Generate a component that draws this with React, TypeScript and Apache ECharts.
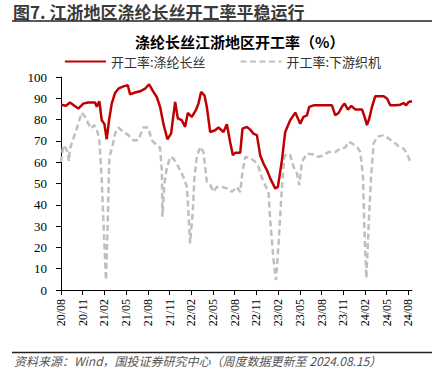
import React, { useEffect, useRef } from 'react';
import * as echarts from 'echarts';

const tickLabels = ['20/08', '20/11', '21/02', '21/05', '21/08', '21/11', '22/02', '22/05', '22/08', '22/11', '23/02', '23/05', '23/08', '23/11', '24/02', '24/05', '24/08'];

// x = months since 2020-08 (weekly observations)
const filamentMonths = [0, 0.7, 1.24, 2.39, 3.08, 3.73, 4.7, 4.94, 5.3, 5.63, 5.99, 6.32, 6.64, 7.01, 7.47, 7.93, 8.62, 9.23, 9.54, 10.24, 10.93, 11.62, 12.17, 12.77, 13.24, 13.69, 14.15, 14.7, 15.21, 15.77, 16.14, 16.69, 17.15, 17.52, 18.08, 18.63, 18.99, 19.36, 19.82, 20.15, 20.61, 21.3, 21.76, 22.45, 22.92, 23.37, 23.75, 24.07, 24.76, 25.08, 25.68, 26.14, 26.6, 27.07, 27.52, 27.98, 28.45, 28.91, 29.6, 29.97, 30.53, 30.98, 31.67, 32.37, 33.06, 33.51, 33.98, 34.3, 34.9, 37.44, 37.9, 38.35, 38.82, 39.18, 39.65, 40.11, 40.66, 41.59, 41.95, 42.28, 42.6, 42.97, 43.43, 44.58, 45.05, 45.5, 46.2, 46.89, 47.34, 47.68, 48.04, 48.5];
const filamentRate = [87, 86.5, 88, 85.2, 87.5, 88, 88, 86, 88.6, 79.7, 78, 70.8, 79.7, 87.5, 92.5, 94.5, 95.6, 96.1, 91.9, 92.7, 93.3, 94.5, 96.6, 93, 90.6, 86, 78.1, 70.8, 73.4, 88.3, 80.6, 79.7, 76.6, 83.1, 81.3, 84.4, 87.5, 93, 91.4, 86, 74.2, 75, 76.3, 74.2, 77.8, 69.5, 63.3, 64.4, 64.4, 75.8, 76.6, 75.3, 73.4, 72.7, 63.3, 59.4, 56.3, 52.4, 47.7, 48.4, 61, 74.2, 79.7, 83.3, 78.1, 81.3, 82, 86, 86.7, 86.7, 82, 83.1, 86, 87.5, 84.7, 86.4, 84.8, 84.8, 81.3, 77.4, 80.5, 86, 91, 91, 89.9, 86.7, 86.7, 87, 87.8, 86.7, 88.3, 88.6];

const loomMonths = [0, 0.32, 0.55, 0.9, 1.1, 1.24, 1.7, 2.17, 2.86, 3.32, 3.78, 4.15, 4.61, 4.94, 5.3, 5.63, 5.99, 6.22, 6.46, 6.68, 7.1, 7.47, 7.93, 8.62, 9.31, 10, 10.69, 11.38, 12.07, 12.54, 13.24, 13.69, 13.93, 14.01, 14.29, 14.63, 15.1, 15.55, 16.22, 16.92, 17.39, 17.64, 17.84, 18.22, 18.44, 18.77, 19.23, 19.68, 20.15, 20.61, 21.07, 21.54, 22.23, 22.92, 23.61, 24.3, 24.76, 25.08, 25.45, 26.14, 26.83, 27.29, 27.73, 28.22, 28.67, 28.91, 29.37, 29.7, 30.06, 30.53, 30.84, 31.22, 31.67, 32.12, 32.6, 32.92, 33.29, 33.98, 34.9, 35.59, 36.28, 36.97, 37.9, 38.59, 39.28, 39.74, 40.21, 40.9, 41.36, 41.73, 41.91, 42.19, 42.5, 42.84, 43.2, 43.67, 44.58, 45.27, 45.96, 46.65, 47.34, 47.81, 48.37];
const loomRate = [60, 68, 67.2, 65, 60.5, 66.4, 71.1, 75.8, 83.3, 81.3, 78.1, 75.8, 77.4, 75.8, 70.3, 51.6, 21.9, 4.7, 32.8, 62.5, 67.2, 73.4, 76.3, 74.2, 72.7, 70.3, 70.3, 76.3, 76.3, 70.3, 68, 66.9, 56.3, 34.4, 50, 57.5, 62.5, 61.7, 57.8, 53.1, 48.4, 35, 21.9, 37.5, 53.1, 62.5, 67.2, 64.8, 50.8, 49.4, 46.1, 48.4, 48.4, 47.7, 46.1, 48.4, 46, 55.5, 62.5, 62, 60.2, 57.8, 53, 49.2, 46, 32.8, 14, 4.7, 21.9, 48.4, 62.5, 64, 63.3, 57.8, 54.7, 49.2, 60.2, 64, 63.6, 62.5, 63.3, 64.8, 64.8, 66.4, 66.9, 69.5, 68.8, 67.2, 64.8, 53.1, 29.7, 5.5, 29.7, 53.1, 68.8, 71.9, 72.7, 71.1, 69.5, 67.5, 66.4, 64, 59.4];

const zip = (xs: number[], ys: number[]) => xs.map((x, i) => [x, ys[i]]);

const serif = "'Liberation Serif', 'Times New Roman', serif";
const cjk = "'Noto Sans CJK SC', sans-serif";

export default function App() {
  const ref = useRef<HTMLDivElement>(null);
  useEffect(() => {
    const chart = echarts.init(ref.current!, null, { renderer: 'svg' });
    const tickValues = tickLabels.map((_, i) => i * 3);
    chart.setOption({
      animation: false,
      backgroundColor: '#ffffff',
      title: {
        text: '涤纶长丝江浙地区开工率（%）',
        left: 130,
        top: 29,
        textStyle: { fontSize: 15, fontWeight: 'bold', color: '#000', fontFamily: cjk },
      },
      legend: {
        top: 50,
        left: 'center',
        itemWidth: 41,
        itemHeight: 10,
        itemGap: 34,
        itemStyle: { opacity: 0 },
        textStyle: { fontSize: 13, color: '#333', fontFamily: cjk },
        data: ['开工率:涤纶长丝', '开工率:下游织机'],
      },
      graphic: [
        {
          type: 'text',
          left: 13,
          top: 3,
          style: { text: '图7. 江浙地区涤纶长丝开工率平稳运行', fontSize: 17, fontWeight: 'bold', fill: '#3a3a3a', fontFamily: cjk },
        },
        { type: 'line', shape: { x1: 12, y1: 21, x2: 432, y2: 21 }, style: { stroke: '#222', lineWidth: 1.5 } },
        { type: 'line', shape: { x1: 12, y1: 352.5, x2: 432, y2: 352.5 }, style: { stroke: '#222', lineWidth: 1.5 } },
        {
          type: 'text',
          left: 14,
          top: 354,
          style: { text: '资料来源：Wind，国投证券研究中心（周度数据更新至 2024.08.15）', fontSize: 12, fontStyle: 'italic', fill: '#555', fontFamily: cjk },
        },
      ],
      grid: { left: 61, right: 33, top: 77, bottom: 79 },
      xAxis: {
        type: 'value',
        min: 0,
        max: 48.5,
        splitLine: { show: false },
        axisLine: { show: true, lineStyle: { color: '#000', width: 1 } },
        axisTick: { show: true, length: 5, customValues: tickValues, lineStyle: { color: '#000' } },
        axisLabel: {
          customValues: tickValues,
          formatter: (v: number) => tickLabels[Math.round(v / 3)] ?? '',
          rotate: 90,
          margin: 9,
          fontSize: 12,
          color: '#000',
          fontFamily: serif,
        },
      },
      yAxis: {
        type: 'value',
        min: 0,
        max: 100,
        interval: 10,
        splitLine: { show: false },
        axisLine: { show: true, lineStyle: { color: '#000', width: 1 } },
        axisTick: { show: true, length: 5, lineStyle: { color: '#000' } },
        axisLabel: { margin: 14, fontSize: 13, color: '#000', fontFamily: serif },
      },
      series: [
        {
          name: '开工率:涤纶长丝',
          type: 'line',
          data: zip(filamentMonths, filamentRate),
          symbol: 'none',
          lineStyle: { color: '#C00000', width: 2.5 },
          itemStyle: { color: '#C00000' },
          z: 3,
        },
        {
          name: '开工率:下游织机',
          type: 'line',
          data: zip(loomMonths, loomRate),
          symbol: 'none',
          lineStyle: { color: '#BFBFBF', width: 2.5, type: [6, 3.5] },
          itemStyle: { color: '#BFBFBF' },
          z: 2,
        },
      ],
    });
    return () => chart.dispose();
  }, []);
  return <div ref={ref} style={{ position: 'fixed', left: 0, top: 0, width: 445, height: 369, background: '#fff' }} />;
}
